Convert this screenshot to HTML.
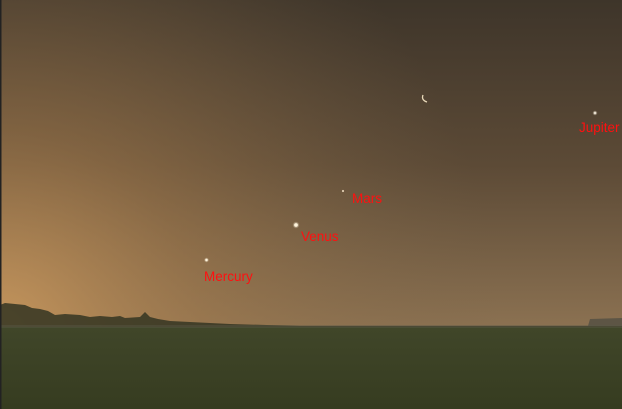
<!DOCTYPE html>
<html><head><meta charset="utf-8"><style>
html,body{margin:0;padding:0;background:#000}
svg{display:block}
text{font-family:"Liberation Sans",sans-serif;font-size:13.5px;fill:#ff1010}
</style></head><body>
<svg width="622" height="409" viewBox="0 0 622 409">
<defs>
<linearGradient id="sky" x1="0" y1="0" x2="0" y2="1">
<stop offset="0" stop-color="#3e352a"/>
<stop offset="0.5" stop-color="#5c4a36"/>
<stop offset="1" stop-color="#8c7252"/>
</linearGradient>
<radialGradient id="glow" cx="0" cy="330" r="500" gradientUnits="userSpaceOnUse">
<stop offset="0" stop-color="#cc9a5e" stop-opacity="0.9"/>
<stop offset="0.4" stop-color="#a87e4e" stop-opacity="0.5"/>
<stop offset="1" stop-color="#7a6448" stop-opacity="0"/>
</radialGradient>
<linearGradient id="ground" x1="0" y1="0" x2="0" y2="1">
<stop offset="0" stop-color="#404629"/>
<stop offset="1" stop-color="#363c20"/>
</linearGradient>
<radialGradient id="star"><stop offset="0" stop-color="#fff6e0"/><stop offset="1" stop-color="#fff6e0" stop-opacity="0"/></radialGradient>
</defs>
<rect x="0" y="0" width="622" height="330" fill="url(#sky)"/>
<rect x="0" y="0" width="622" height="330" fill="url(#glow)"/>
<path fill="#343522" opacity="0.85" d="M0,330 L0,305 L5,303 L15,304 L25,305 L32,308 L40,309 L48,311 L55,315 L65,314 L80,315 L90,317 L100,316 L112,317 L120,316 L125,318 L140,317 L145,312 L150,317 L158,319 L170,321 L190,322 L230,324 L300,326 L622,326 L622,330 Z"/>
<path fill="#4a4a40" opacity="0.7" d="M588,326 L590,319 L622,318 L622,326 Z"/>
<rect x="0" y="327" width="622" height="82" fill="url(#ground)"/>
<rect x="0" y="325" width="622" height="3" fill="#5a5a48" opacity="0.4"/>
<rect x="0" y="0" width="1.5" height="409" fill="#222"/>
<circle cx="206.5" cy="260" r="2.5" fill="url(#star)"/>
<circle cx="206.5" cy="260" r="1.2" fill="#fff4dc"/>
<circle cx="296" cy="225" r="3.5" fill="url(#star)"/>
<circle cx="296" cy="225" r="1.8" fill="#fff4dc"/>
<circle cx="343" cy="191" r="1.1" fill="#e0ccb0"/>
<circle cx="595" cy="113" r="2.5" fill="url(#star)"/>
<circle cx="595" cy="113" r="1.2" fill="#e8e0d0"/>
<path d="M423,95 Q421,100 427,102" stroke="#e8d8b8" stroke-width="1.3" fill="none"/>
<text x="204" y="281">Mercury</text>
<text x="301" y="241">Venus</text>
<text x="352" y="203">Mars</text>
<text x="579" y="132">Jupiter</text>
</svg>
</body></html>
